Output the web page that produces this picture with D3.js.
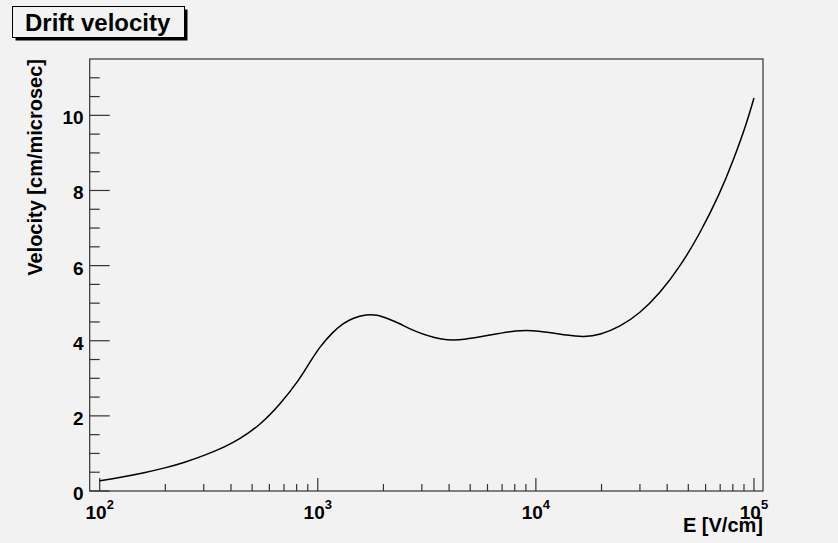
<!DOCTYPE html>
<html>
<head>
<meta charset="utf-8">
<script src="https://cdn.jsdelivr.net/npm/d3@7"></script>
<style>
  html, body { margin: 0; padding: 0; background: #f2f2f2; }
  svg { display: block; }
  text { font-family: "Liberation Sans", Arial, Helvetica, sans-serif; font-weight: bold; fill: #000; }
</style>
</head>
<body>
<svg id="chart" width="838" height="543"></svg>
<script>
// ---- Data ----
const title = "Drift velocity";
const xTitle = "E [V/cm]";
const yTitle = "Velocity [cm/microsec]";
const fieldE = [100, 124, 161, 199, 245, 303, 374, 438, 542, 669, 827, 918, 1021, 1175, 1306, 1452, 1672, 1858, 2138, 2377, 2737, 3757, 4645, 6155, 8150, 10070, 14320, 16480, 19680, 24290, 29980, 37000, 45800, 56500, 69800, 80400, 92500, 100000];
const velocity = [0.27, 0.36, 0.49, 0.61, 0.76, 0.95, 1.17, 1.38, 1.75, 2.29, 2.98, 3.42, 3.84, 4.24, 4.46, 4.61, 4.70, 4.70, 4.57, 4.46, 4.26, 4.00, 4.02, 4.15, 4.28, 4.28, 4.13, 4.10, 4.15, 4.37, 4.73, 5.26, 5.97, 6.85, 7.92, 8.80, 9.78, 10.46];
const xDomain = [90, 110000];
const yDomain = [0, 11.5];
const xMajorExponents = [2, 3, 4, 5];
const yMajorTicks = [0, 2, 4, 6, 8, 10];

// ---- Layout ----
const svg = d3.select("#chart");
const L = 89.7, R = 763, T = 59, B = 491;
const x = d3.scaleLog().domain(xDomain).range([L, R]);
const y = d3.scaleLinear().domain(yDomain).range([B, T]);
const axisColor = "#333";

svg.append("rect").attr("x", 0).attr("y", 0).attr("width", 838).attr("height", 543).attr("fill", "#f2f2f2");

// frame
svg.append("rect").attr("x", L).attr("y", T).attr("width", R - L).attr("height", B - T)
  .attr("fill", "#f2f2f2").attr("stroke", axisColor).attr("stroke-width", 1.2);

// X ticks (major + minor)
const xTicksAll = [];
for (let e = 1; e <= 5; e++) {
  for (let m = 1; m <= 9; m++) {
    const v = m * Math.pow(10, e);
    if (v > xDomain[0] * 1.001 && v <= xDomain[1]) xTicksAll.push({v, major: m === 1});
  }
}
svg.append("g").selectAll("line").data(xTicksAll).join("line")
  .attr("x1", d => x(d.v)).attr("x2", d => x(d.v))
  .attr("y1", B).attr("y2", d => B - (d.major ? 13 : 7))
  .attr("stroke", axisColor).attr("stroke-width", 1.2);

// X labels 10^n
const xl = svg.append("g").selectAll("text").data(xMajorExponents).join("text")
  .attr("x", d => x(Math.pow(10, d)))
  .attr("y", 519)
  .attr("text-anchor", "middle")
  .attr("font-size", 19);
xl.append("tspan").text("10");
xl.append("tspan").attr("font-size", 13).attr("dy", -10).text(d => d);

// Y ticks
const yTicksAll = d3.range(0, 11.01, 0.5).map(v => ({v, major: Math.abs(v % 2) < 1e-9}));
svg.append("g").selectAll("line").data(yTicksAll).join("line")
  .attr("x1", L).attr("x2", d => L + (d.major ? 20 : 10))
  .attr("y1", d => y(d.v)).attr("y2", d => y(d.v))
  .attr("stroke", axisColor).attr("stroke-width", 1.2);

svg.append("g").selectAll("text").data(yMajorTicks).join("text")
  .attr("x", L - 6)
  .attr("y", d => y(d) + 9)
  .attr("text-anchor", "end")
  .attr("font-size", 19)
  .text(d => d);

// Axis titles
svg.append("text").attr("x", R).attr("y", 532).attr("text-anchor", "end")
  .attr("font-size", 20).text(xTitle);
svg.append("text").attr("transform", `translate(42,${T}) rotate(-90)`)
  .attr("text-anchor", "end").attr("font-size", 20).text(yTitle);

// Curve
const pts = fieldE.map((e, i) => [e, velocity[i]]);
svg.append("path").datum(pts)
  .attr("fill", "none").attr("stroke", "#000").attr("stroke-width", 1.5)
  .attr("d", d3.line().x(d => x(d[0])).y(d => y(d[1])).curve(d3.curveBasis));

// Title box with shadow
svg.append("rect").attr("x", 15.5).attr("y", 9.5).attr("width", 172).attr("height", 31).attr("fill", "#000");
svg.append("rect").attr("x", 12.5).attr("y", 6.5).attr("width", 172).attr("height", 31)
  .attr("fill", "#f2f2f2").attr("stroke", "#000").attr("stroke-width", 1);
svg.append("text").attr("x", 25).attr("y", 31).attr("font-size", 24).text(title);
</script>
</body>
</html>
